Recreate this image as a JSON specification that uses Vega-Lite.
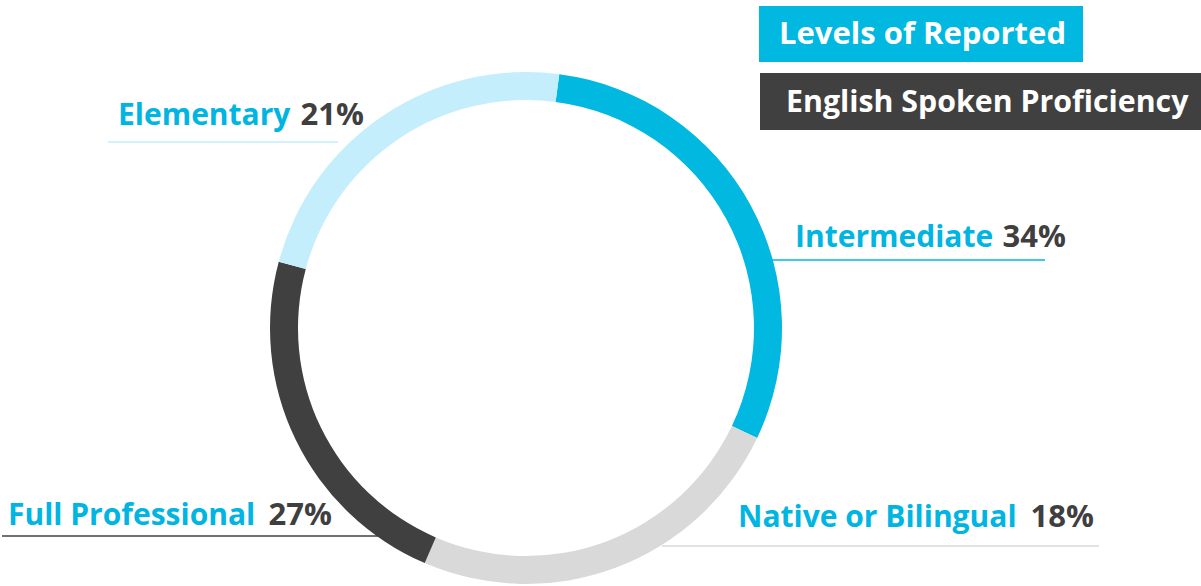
{
  "$schema": "https://vega.github.io/schema/vega-lite/v6.json",
  "width": 1201,
  "height": 586,
  "padding": 0,
  "autosize": "none",
  "background": "white",
  "config": {"view": {"stroke": null}},
  "data": {"values": [
    {"level": "Intermediate", "pct": 0.34, "share": 30.0, "rank": 1},
    {"level": "Native or Bilingual", "pct": 0.18, "share": 24.4, "rank": 2},
    {"level": "Full Professional", "pct": 0.27, "share": 22.7, "rank": 3},
    {"level": "Elementary", "pct": 0.21, "share": 22.9, "rank": 4}
  ]},
  "layer": [
    {
      "transform": [{"filter": "datum.level === 'Elementary'"}],
      "mark": {"type": "rule", "color": "#c4eefc", "strokeWidth": 1.5},
      "encoding": {
        "x": {"datum": 108, "type": "quantitative", "scale": {"domain": [0, 1201], "nice": false, "zero": false}, "axis": null},
        "x2": {"datum": 338},
        "y": {"datum": 142, "type": "quantitative", "scale": {"domain": [0, 586], "nice": false, "zero": false, "reverse": true}, "axis": null}
      }
    },
    {
      "transform": [{"filter": "datum.level === 'Intermediate'"}],
      "mark": {"type": "rule", "color": "#00b8e0", "strokeWidth": 1.5},
      "encoding": {
        "x": {"datum": 765, "type": "quantitative", "scale": {"domain": [0, 1201], "nice": false, "zero": false}, "axis": null},
        "x2": {"datum": 1045},
        "y": {"datum": 260, "type": "quantitative", "scale": {"domain": [0, 586], "nice": false, "zero": false, "reverse": true}, "axis": null}
      }
    },
    {
      "transform": [{"filter": "datum.level === 'Native or Bilingual'"}],
      "mark": {"type": "rule", "color": "#d9d9d9", "strokeWidth": 1.5},
      "encoding": {
        "x": {"datum": 662, "type": "quantitative", "scale": {"domain": [0, 1201], "nice": false, "zero": false}, "axis": null},
        "x2": {"datum": 1099},
        "y": {"datum": 546, "type": "quantitative", "scale": {"domain": [0, 586], "nice": false, "zero": false, "reverse": true}, "axis": null}
      }
    },
    {
      "transform": [{"filter": "datum.level === 'Full Professional'"}],
      "mark": {"type": "rule", "color": "#404040", "strokeWidth": 1.5},
      "encoding": {
        "x": {"datum": 2, "type": "quantitative", "scale": {"domain": [0, 1201], "nice": false, "zero": false}, "axis": null},
        "x2": {"datum": 382},
        "y": {"datum": 536, "type": "quantitative", "scale": {"domain": [0, 586], "nice": false, "zero": false, "reverse": true}, "axis": null}
      }
    },
    {
      "mark": {"type": "arc", "outerRadius": 256, "innerRadius": 228},
      "encoding": {
        "x": {"datum": 526, "type": "quantitative", "scale": {"domain": [0, 1201], "nice": false, "zero": false}, "axis": null},
        "y": {"datum": 328, "type": "quantitative", "scale": {"domain": [0, 586], "nice": false, "zero": false, "reverse": true}, "axis": null},
        "theta": {"field": "share", "type": "quantitative", "stack": true, "scale": {"domain": [0, 100], "range": [0.1302, 6.4134]}},
        "order": {"field": "rank", "type": "quantitative", "sort": "ascending"},
        "color": {"field": "level", "type": "nominal", "legend": null,
          "scale": {"domain": ["Intermediate", "Native or Bilingual", "Full Professional", "Elementary"],
                    "range": ["#00b8e0", "#d9d9d9", "#404040", "#c4eefc"]}}
      }
    },
    {
      "transform": [{"filter": "datum.level === 'Elementary'"}],
      "layer": [
        {
          "mark": {"type": "text", "align": "left", "baseline": "alphabetic", "font": "Open Sans", "fontWeight": "bold", "fontSize": 30, "color": "#00b5e2"},
          "encoding": {
            "x": {"datum": 118, "type": "quantitative", "scale": {"domain": [0, 1201], "nice": false, "zero": false}, "axis": null},
            "y": {"datum": 125, "type": "quantitative", "scale": {"domain": [0, 586], "nice": false, "zero": false, "reverse": true}, "axis": null},
            "text": {"field": "level"}
          }
        },
        {
          "mark": {"type": "text", "align": "right", "baseline": "alphabetic", "font": "Open Sans", "fontWeight": "bold", "fontSize": 31, "color": "#3f3f3f"},
          "encoding": {
            "x": {"datum": 364, "type": "quantitative", "scale": {"domain": [0, 1201], "nice": false, "zero": false}, "axis": null},
            "y": {"datum": 125, "type": "quantitative", "scale": {"domain": [0, 586], "nice": false, "zero": false, "reverse": true}, "axis": null},
            "text": {"field": "pct", "format": ".0%"}
          }
        }
      ]
    },
    {
      "transform": [{"filter": "datum.level === 'Intermediate'"}],
      "layer": [
        {
          "mark": {"type": "text", "align": "left", "baseline": "alphabetic", "font": "Open Sans", "fontWeight": "bold", "fontSize": 30, "color": "#00b5e2"},
          "encoding": {
            "x": {"datum": 795, "type": "quantitative", "scale": {"domain": [0, 1201], "nice": false, "zero": false}, "axis": null},
            "y": {"datum": 247, "type": "quantitative", "scale": {"domain": [0, 586], "nice": false, "zero": false, "reverse": true}, "axis": null},
            "text": {"field": "level"}
          }
        },
        {
          "mark": {"type": "text", "align": "right", "baseline": "alphabetic", "font": "Open Sans", "fontWeight": "bold", "fontSize": 31, "color": "#3f3f3f"},
          "encoding": {
            "x": {"datum": 1066, "type": "quantitative", "scale": {"domain": [0, 1201], "nice": false, "zero": false}, "axis": null},
            "y": {"datum": 247, "type": "quantitative", "scale": {"domain": [0, 586], "nice": false, "zero": false, "reverse": true}, "axis": null},
            "text": {"field": "pct", "format": ".0%"}
          }
        }
      ]
    },
    {
      "transform": [{"filter": "datum.level === 'Native or Bilingual'"}],
      "layer": [
        {
          "mark": {"type": "text", "align": "left", "baseline": "alphabetic", "font": "Open Sans", "fontWeight": "bold", "fontSize": 30, "color": "#00b5e2"},
          "encoding": {
            "x": {"datum": 738, "type": "quantitative", "scale": {"domain": [0, 1201], "nice": false, "zero": false}, "axis": null},
            "y": {"datum": 527, "type": "quantitative", "scale": {"domain": [0, 586], "nice": false, "zero": false, "reverse": true}, "axis": null},
            "text": {"field": "level"}
          }
        },
        {
          "mark": {"type": "text", "align": "right", "baseline": "alphabetic", "font": "Open Sans", "fontWeight": "bold", "fontSize": 31, "color": "#3f3f3f"},
          "encoding": {
            "x": {"datum": 1094, "type": "quantitative", "scale": {"domain": [0, 1201], "nice": false, "zero": false}, "axis": null},
            "y": {"datum": 527, "type": "quantitative", "scale": {"domain": [0, 586], "nice": false, "zero": false, "reverse": true}, "axis": null},
            "text": {"field": "pct", "format": ".0%"}
          }
        }
      ]
    },
    {
      "transform": [{"filter": "datum.level === 'Full Professional'"}],
      "layer": [
        {
          "mark": {"type": "text", "align": "left", "baseline": "alphabetic", "font": "Open Sans", "fontWeight": "bold", "fontSize": 30, "color": "#00b5e2"},
          "encoding": {
            "x": {"datum": 8, "type": "quantitative", "scale": {"domain": [0, 1201], "nice": false, "zero": false}, "axis": null},
            "y": {"datum": 525, "type": "quantitative", "scale": {"domain": [0, 586], "nice": false, "zero": false, "reverse": true}, "axis": null},
            "text": {"field": "level"}
          }
        },
        {
          "mark": {"type": "text", "align": "right", "baseline": "alphabetic", "font": "Open Sans", "fontWeight": "bold", "fontSize": 31, "color": "#3f3f3f"},
          "encoding": {
            "x": {"datum": 332, "type": "quantitative", "scale": {"domain": [0, 1201], "nice": false, "zero": false}, "axis": null},
            "y": {"datum": 525, "type": "quantitative", "scale": {"domain": [0, 586], "nice": false, "zero": false, "reverse": true}, "axis": null},
            "text": {"field": "pct", "format": ".0%"}
          }
        }
      ]
    },
    {
      "data": {"values": [{"t1": "Levels of Reported", "t2": "English Spoken Proficiency"}]},
      "layer": [
        {
          "mark": {"type": "rect", "color": "#00b8e0"},
          "encoding": {
            "x": {"datum": 759, "type": "quantitative", "scale": {"domain": [0, 1201], "nice": false, "zero": false}, "axis": null},
            "x2": {"datum": 1083},
            "y": {"datum": 6, "type": "quantitative", "scale": {"domain": [0, 586], "nice": false, "zero": false, "reverse": true}, "axis": null},
            "y2": {"datum": 62}
          }
        },
        {
          "mark": {"type": "rect", "color": "#404040"},
          "encoding": {
            "x": {"datum": 760, "type": "quantitative", "scale": {"domain": [0, 1201], "nice": false, "zero": false}, "axis": null},
            "x2": {"datum": 1201},
            "y": {"datum": 73, "type": "quantitative", "scale": {"domain": [0, 586], "nice": false, "zero": false, "reverse": true}, "axis": null},
            "y2": {"datum": 130}
          }
        },
        {
          "mark": {"type": "text", "align": "left", "baseline": "alphabetic", "font": "Open Sans", "fontWeight": "bold", "fontSize": 31, "color": "white"},
          "encoding": {
            "x": {"datum": 779, "type": "quantitative", "scale": {"domain": [0, 1201], "nice": false, "zero": false}, "axis": null},
            "y": {"datum": 44, "type": "quantitative", "scale": {"domain": [0, 586], "nice": false, "zero": false, "reverse": true}, "axis": null},
            "text": {"field": "t1"}
          }
        },
        {
          "mark": {"type": "text", "align": "left", "baseline": "alphabetic", "font": "Open Sans", "fontWeight": "bold", "fontSize": 30.3, "color": "white"},
          "encoding": {
            "x": {"datum": 786, "type": "quantitative", "scale": {"domain": [0, 1201], "nice": false, "zero": false}, "axis": null},
            "y": {"datum": 112, "type": "quantitative", "scale": {"domain": [0, 586], "nice": false, "zero": false, "reverse": true}, "axis": null},
            "text": {"field": "t2"}
          }
        }
      ]
    }
  ]
}
